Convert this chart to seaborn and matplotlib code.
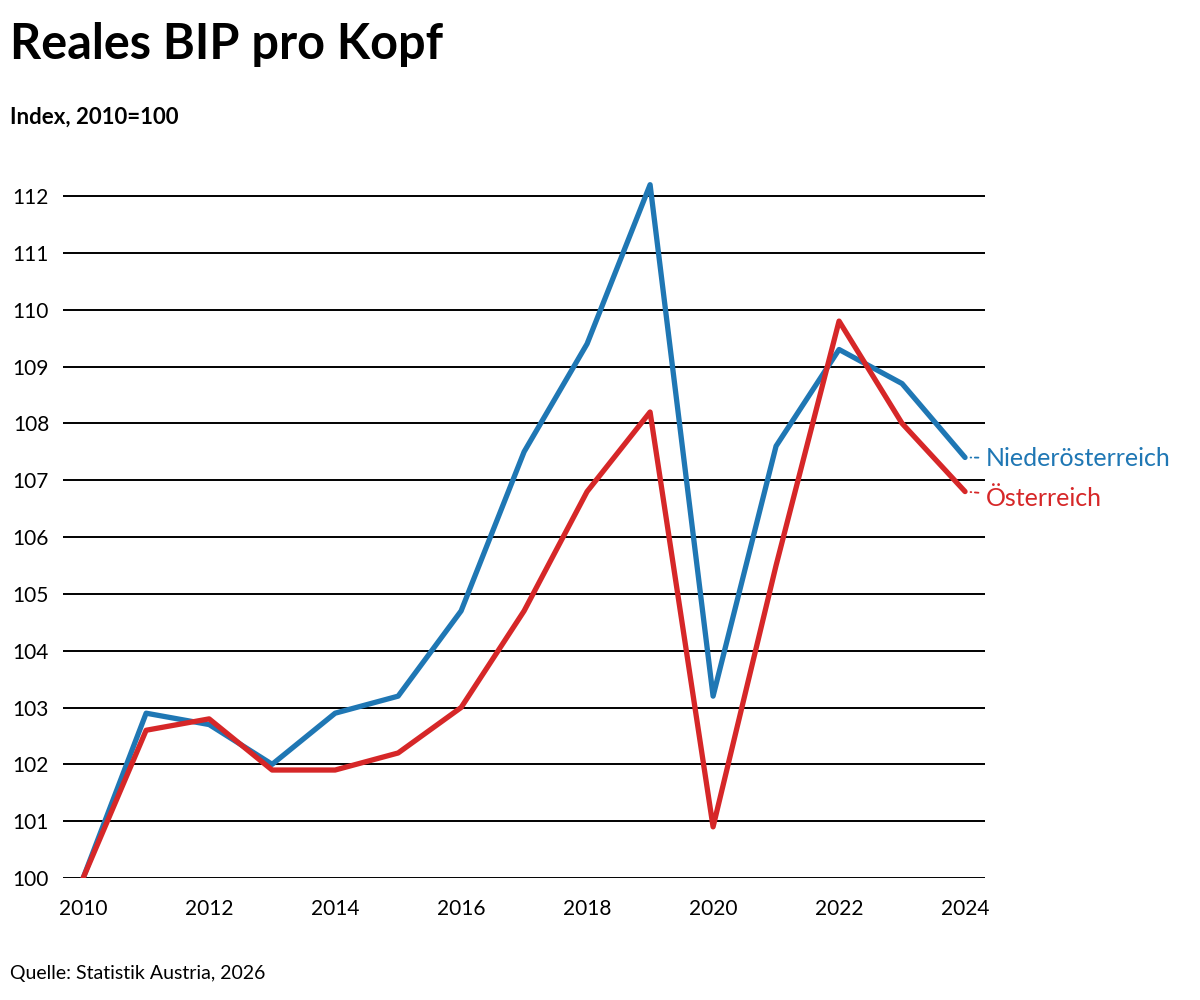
import pandas as pd
import seaborn as sns
from matplotlib import pyplot as plt

years = list(range(2010, 2025))
noe = [100, 102.9, 102.7, 102.0, 102.9, 103.2, 104.7, 107.5, 109.4, 112.2,
       103.2, 107.6, 109.3, 108.7, 107.4]
at = [100, 102.6, 102.8, 101.9, 101.9, 102.2, 103.0, 104.7, 106.8, 108.2,
      100.9, 105.5, 109.8, 108.0, 106.8]
series_names = ["Niederösterreich", "Österreich"]
colors = ["#1f77b4", "#d62728"]
y_ticks = list(range(100, 113))
x_ticks = list(range(2010, 2025, 2))

sns.set_theme(style="white")
plt.rcParams["font.family"] = ["Lato", "DejaVu Sans"]
plt.rcParams["text.color"] = "black"

df = pd.DataFrame({"Jahr": years, series_names[0]: noe, series_names[1]: at})
long = df.melt(id_vars="Jahr", var_name="Region", value_name="Index")

fig = plt.figure(figsize=(12, 10), dpi=100)
ax = fig.add_axes([0.0525, 0.122, 0.7685, 0.699])

for y in y_ticks:
    ax.axhline(y, color="black", lw=1.4, zorder=1)

sns.lineplot(long, x="Jahr", y="Index", hue="Region", palette=colors,
             hue_order=series_names, lw=3.8, ax=ax, legend=False, zorder=3)

ax.set(xlim=(2009.68, 2024.32), ylim=(100, 112.3), xlabel="", ylabel="")
ax.set_xticks(x_ticks)
ax.set_yticks(y_ticks)
ax.tick_params(axis="both", labelsize=15, length=0, colors="black")
ax.tick_params(axis="y", pad=10)
ax.tick_params(axis="x", pad=15)
ax.spines[["left", "bottom", "top", "right"]].set_visible(False)

# end labels with short connectors
ends = [noe[-1], at[-1]]
offsets = [(15, -1), (15, -5)]
for name, val, c, off in zip(series_names, ends, colors, offsets):
    ax.annotate(name, xy=(years[-1], val), xytext=off,
                textcoords="offset points", va="center", ha="left",
                color=c, fontsize=18, annotation_clip=False,
                arrowprops=dict(arrowstyle="-", color=c, lw=1.3,
                                linestyle=(0, (2, 2)),
                                shrinkA=3, shrinkB=4))

fig.text(0.008, 0.978, "Reales BIP pro Kopf", fontsize=35, fontweight="bold",
         va="top", ha="left")
fig.text(0.008, 0.893, "Index, 2010=100", fontsize=16, fontweight="bold",
         va="top", ha="left")
fig.text(0.008, 0.018, "Quelle: Statistik Austria, 2026", fontsize=14,
         va="bottom", ha="left")

fig.savefig("out.png", dpi=100)
